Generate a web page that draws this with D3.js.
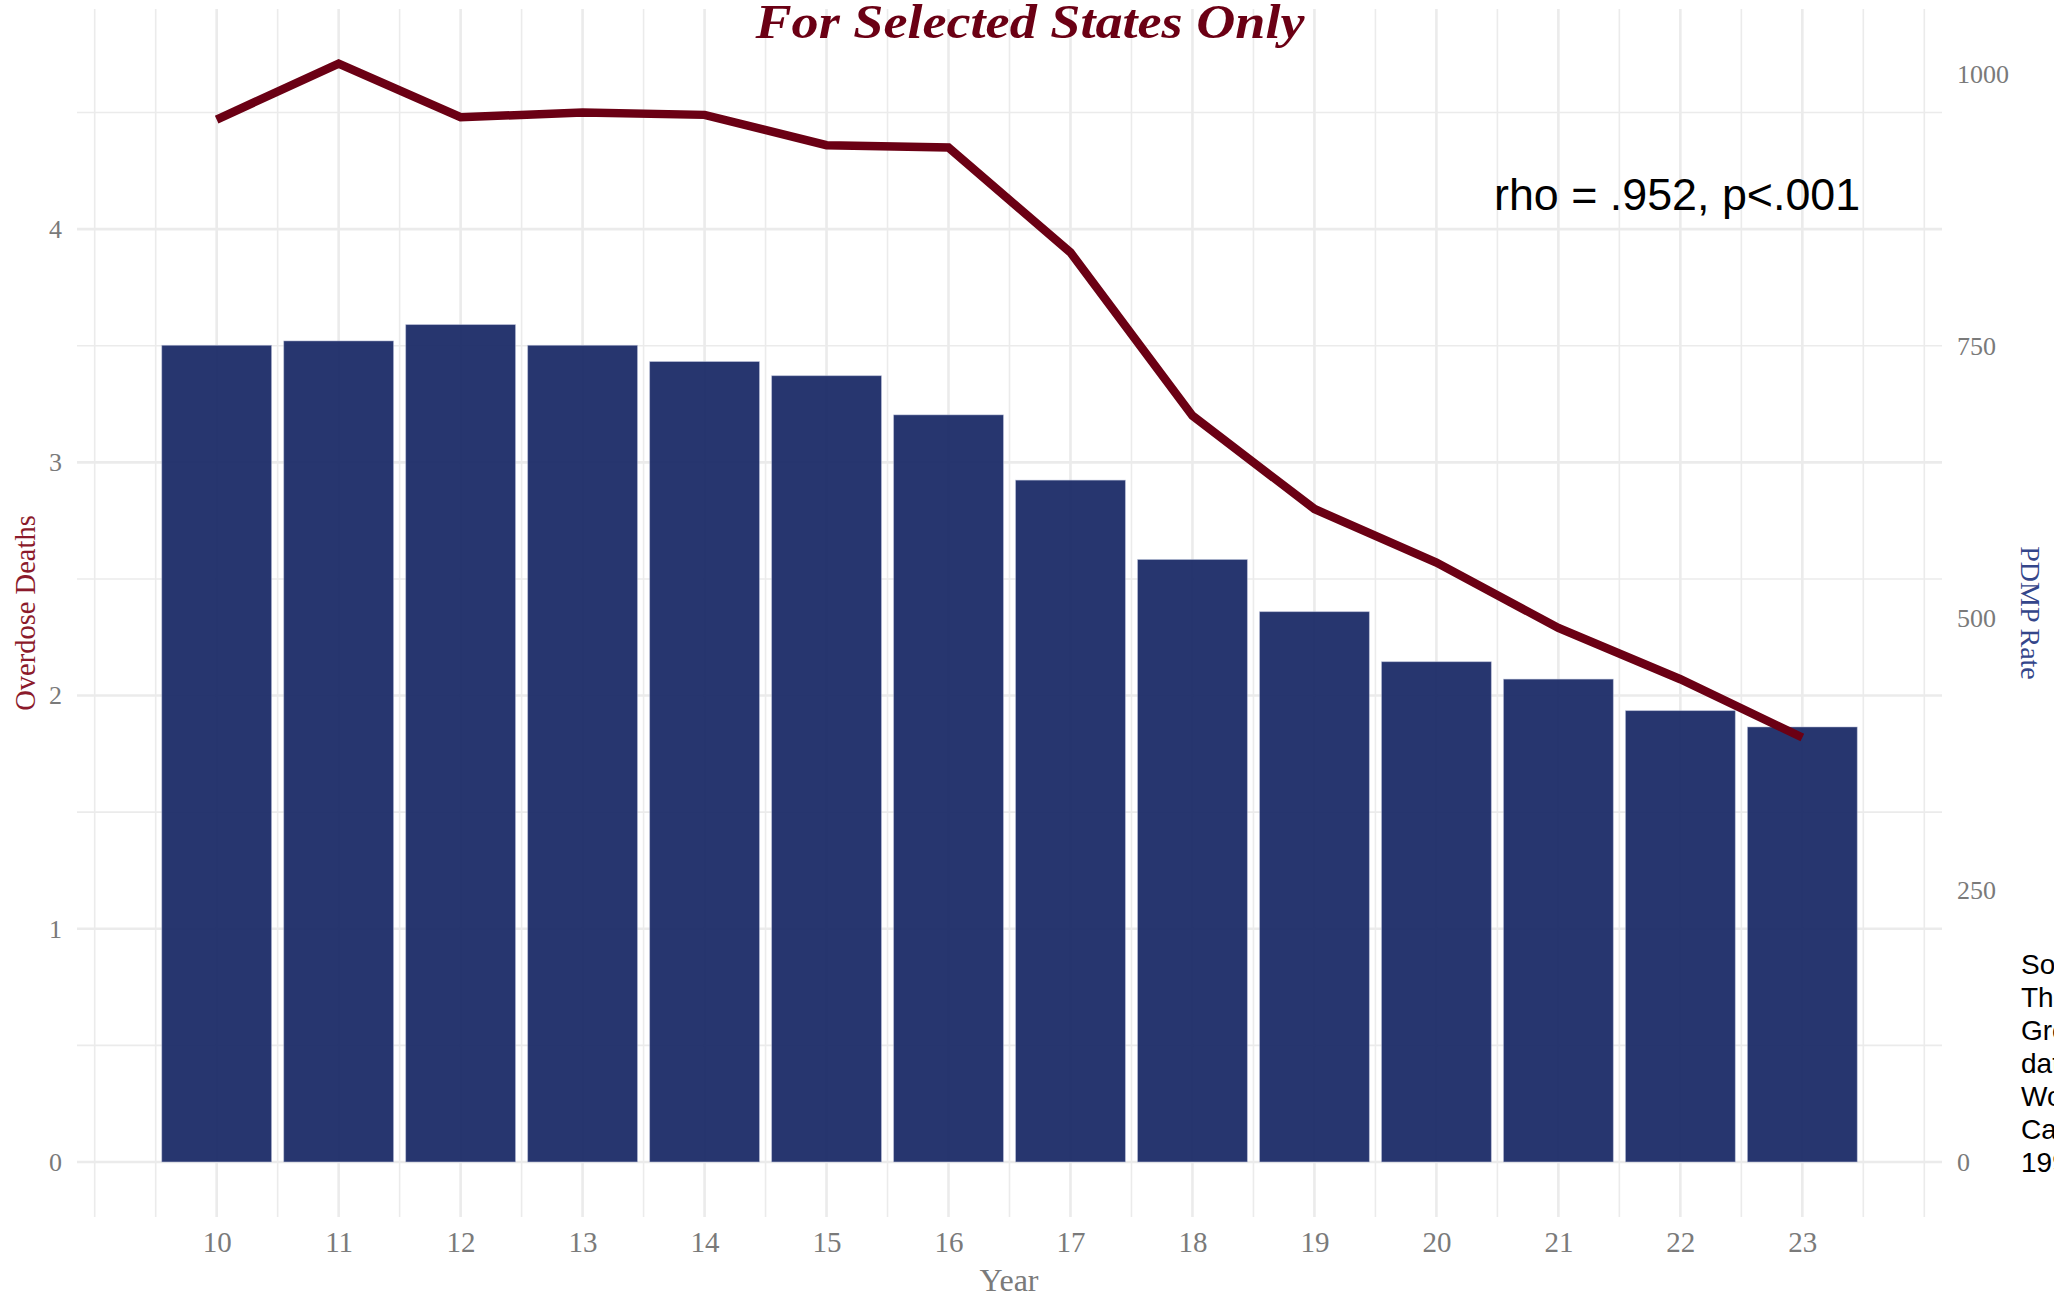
<!DOCTYPE html>
<html>
<head>
<meta charset="utf-8">
<script src="https://cdn.jsdelivr.net/npm/d3@7"></script>
<style>
  body { margin: 0; background: #fff; }
  svg { display: block; }
  .tickLabel text { font-family: "Liberation Serif", serif; font-size: 26px; fill: #7a7a7a; }
  .xLabel text { font-size: 29px; }
</style>
</head>
<body>
<script>
(function(){
//data
var years = [10, 11, 12, 13, 14, 15, 16, 17, 18, 19, 20, 21, 22, 23];
var pdmpRate = [751, 755, 770, 751, 736, 723, 687, 627, 554, 506, 460, 444, 415, 400];
var overdoseDeaths = [4.47, 4.71, 4.48, 4.50, 4.49, 4.36, 4.35, 3.90, 3.20, 2.80, 2.57, 2.29, 2.07, 1.82];
var leftTicks = [0, 1, 2, 3, 4];
var rightTicks = [0, 250, 500, 750, 1000];
var sourceLines = ["Source:", "The", "Green", "data", "Wonder", "Causes", "1999"];

var secFactor = 214.45; //PDMP rate units per overdose unit

window.onload = setChart();

function setChart(){
    var width = 2054,
        height = 1297;

    var svg = d3.select("body")
        .append("svg")
        .attr("width", width)
        .attr("height", height);

    svg.append("rect")
        .attr("width", width)
        .attr("height", height)
        .attr("fill", "#fff");

    //scales
    var x = d3.scaleLinear()
        .domain([8.855, 24.145])
        .range([77, 1942]);

    var yLeft = d3.scaleLinear()
        .domain([-0.236, 4.944])
        .range([1217, 9]);

    var yRight = d3.scaleLinear()
        .domain([-0.236 * secFactor, 4.944 * secFactor])
        .range([1217, 9]);

    //gridlines
    var grid = svg.append("g").attr("class", "grid");

    var xMinor = d3.range(9, 24.01, 0.5);
    grid.selectAll(".vgrid")
        .data(xMinor)
        .enter()
        .append("line")
        .attr("x1", function(d){ return x(d); })
        .attr("x2", function(d){ return x(d); })
        .attr("y1", yLeft.range()[1])
        .attr("y2", yLeft.range()[0])
        .attr("stroke", "#ebebeb")
        .attr("stroke-width", function(d){
            return (d >= 10 && d <= 23 && d % 1 == 0) ? 2.6 : 1.6;
        });

    var yMinor = d3.range(0, 4.51, 0.5);
    grid.selectAll(".hgrid")
        .data(yMinor)
        .enter()
        .append("line")
        .attr("x1", x.range()[0])
        .attr("x2", x.range()[1])
        .attr("y1", function(d){ return yLeft(d); })
        .attr("y2", function(d){ return yLeft(d); })
        .attr("stroke", "#ebebeb")
        .attr("stroke-width", function(d){
            return d % 1 == 0 ? 2.6 : 1.6;
        });

    //bars (PDMP rate, right axis)
    var barW = x(0.9) - x(0);
    svg.selectAll(".bars")
        .data(years)
        .enter()
        .append("rect")
        .attr("class", "bars")
        .attr("x", function(d){ return x(d) - barW / 2; })
        .attr("width", barW)
        .attr("y", function(d, i){ return yRight(pdmpRate[i]); })
        .attr("height", function(d, i){ return yRight(0) - yRight(pdmpRate[i]); })
        .attr("fill", "#192966")
        .attr("fill-opacity", 0.94)
        .attr("stroke", "#b9c0d8")
        .attr("stroke-width", 0.8)
        .attr("stroke-opacity", 0.6);

    //line (overdose deaths, left axis)
    var line = d3.line()
        .x(function(d){ return x(d); })
        .y(function(d, i){ return yLeft(overdoseDeaths[i]); });

    svg.append("path")
        .datum(years)
        .attr("d", line)
        .attr("fill", "none")
        .attr("stroke", "#6b0014")
        .attr("stroke-width", 8.5)
        .attr("stroke-linejoin", "miter");

    //axes
    var xAxis = d3.axisBottom(x)
        .tickValues(years)
        .tickSize(0)
        .tickPadding(0);
    var gx = svg.append("g")
        .attr("class", "tickLabel xLabel")
        .attr("transform", "translate(0,1231)")
        .call(xAxis);
    gx.select(".domain").remove();
    gx.selectAll("text").attr("dy", "0.71em");

    var leftAxis = d3.axisLeft(yLeft)
        .tickValues(leftTicks)
        .tickSize(0)
        .tickPadding(0)
        .tickFormat(d3.format("d"));
    var gl = svg.append("g")
        .attr("class", "tickLabel")
        .attr("transform", "translate(62,0)")
        .call(leftAxis);
    gl.select(".domain").remove();

    var rightAxis = d3.axisRight(yRight)
        .tickValues(rightTicks)
        .tickSize(0)
        .tickPadding(0)
        .tickFormat(d3.format("d"));
    var gr = svg.append("g")
        .attr("class", "tickLabel")
        .attr("transform", "translate(1957,0)")
        .call(rightAxis);
    gr.select(".domain").remove();

    //axis titles
    svg.append("text")
        .attr("x", 1009)
        .attr("y", 1291)
        .attr("text-anchor", "middle")
        .style("font-family", "Liberation Serif, serif")
        .style("font-size", "32px")
        .style("fill", "#7a7a7a")
        .text("Year");

    svg.append("text")
        .attr("transform", "translate(35,613) rotate(-90)")
        .attr("text-anchor", "middle")
        .style("font-family", "Liberation Serif, serif")
        .style("font-size", "28.5px")
        .style("fill", "#8b1a2b")
        .text("Overdose Deaths");

    svg.append("text")
        .attr("transform", "translate(2021,613) rotate(90)")
        .attr("text-anchor", "middle")
        .style("font-family", "Liberation Serif, serif")
        .style("font-size", "28px")
        .style("fill", "#34468a")
        .text("PDMP Rate");

    //title
    svg.append("text")
        .attr("x", 1030)
        .attr("y", 38)
        .attr("text-anchor", "middle")
        .attr("textLength", 549)
        .attr("lengthAdjust", "spacingAndGlyphs")
        .style("font-family", "Liberation Serif, serif")
        .style("font-weight", "bold")
        .style("font-style", "italic")
        .style("font-size", "48px")
        .style("fill", "#6b0014")
        .text("For Selected States Only");

    //correlation note
    svg.append("text")
        .attr("x", 1494)
        .attr("y", 210)
        .style("font-family", "Liberation Sans, Arial, sans-serif")
        .style("font-size", "44.8px")
        .style("fill", "#000")
        .text("rho = .952, p<.001");

    //source note (runs off the right edge, as in the original)
    svg.append("g")
        .selectAll("text")
        .data(sourceLines)
        .enter()
        .append("text")
        .attr("x", 2021)
        .attr("y", function(d, i){ return 974 + i * 33; })
        .style("font-family", "Liberation Sans, Arial, sans-serif")
        .style("font-size", "28px")
        .style("fill", "#000")
        .text(function(d){ return d; });
};
})();
</script>
</body>
</html>
